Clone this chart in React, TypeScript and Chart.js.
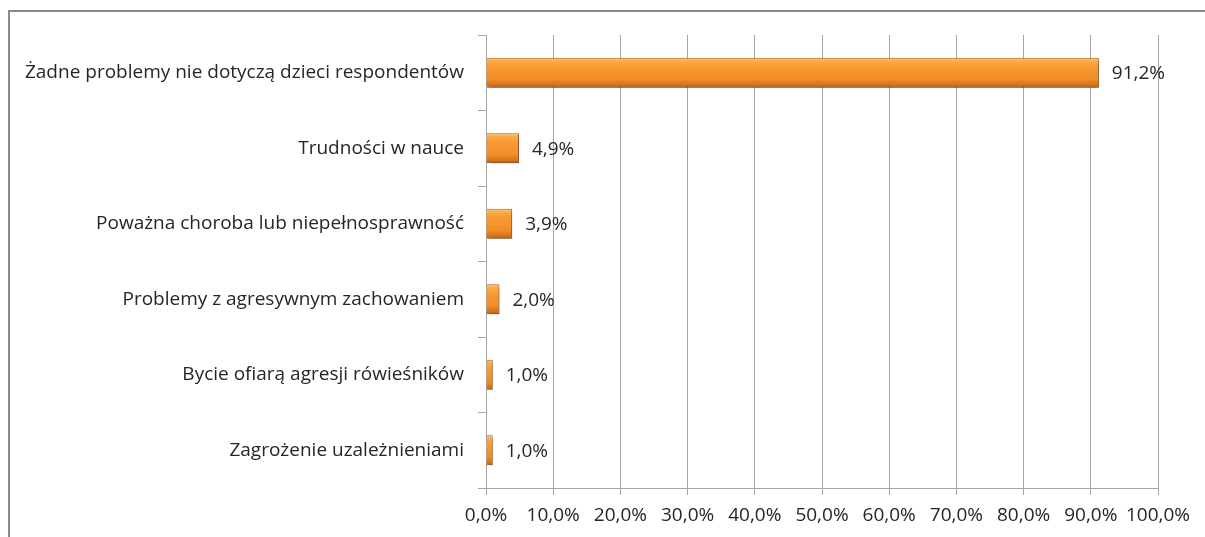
import React, { useEffect, useRef } from "react";
import { Chart, registerables } from "chart.js";

Chart.register(...registerables);

const categories: string[] = [
  "Żadne problemy nie dotyczą dzieci respondentów",
  "Trudności w nauce",
  "Poważna choroba lub niepełnosprawność",
  "Problemy z agresywnym zachowaniem",
  "Bycie ofiarą agresji rówieśników",
  "Zagrożenie uzależnieniami",
];
const values: number[] = [91.2, 4.9, 3.9, 2.0, 1.0, 1.0];
const xTicks: number[] = [0, 10, 20, 30, 40, 50, 60, 70, 80, 90, 100];

const FONT = "'Open Sans', Lato, sans-serif";
const FSIZE = 19;
const TEXT = "#262626";
const GRID = "#a6a6a6";

const fmt = (v: number) => v.toFixed(1).replace(".", ",") + "%";

const barStyle = {
  id: "barStyle",
  beforeDatasetsDraw(chart: any) {
    const ctx = chart.ctx;
    chart.data.datasets.forEach((_: any, i: number) => {
      const meta = chart.getDatasetMeta(i);
      meta.data.forEach((el: any) => {
        const top = el.y - el.height / 2;
        const bot = el.y + el.height / 2;
        const g = ctx.createLinearGradient(0, top, 0, bot);
        g.addColorStop(0, "#fcc77a");
        g.addColorStop(0.12, "#fbab48");
        g.addColorStop(0.3, "#f89a33");
        g.addColorStop(0.7, "#f48e27");
        g.addColorStop(0.9, "#d8731a");
        g.addColorStop(1, "#a85511");
        el.options = { ...el.options, backgroundColor: g };
      });
    });
  },
  beforeDatasetDraw(chart: any) {
    const ctx = chart.ctx;
    ctx.save();
    ctx.shadowColor = "rgba(0,0,0,0.35)";
    ctx.shadowOffsetX = 2;
    ctx.shadowOffsetY = 3;
    ctx.shadowBlur = 4;
  },
  afterDatasetDraw(chart: any) {
    chart.ctx.restore();
  },
};

const valueLabels = {
  id: "valueLabels",
  afterDatasetsDraw(chart: any) {
    const ctx = chart.ctx;
    const meta = chart.getDatasetMeta(0);
    ctx.save();
    ctx.font = `${FSIZE}px ${FONT}`;
    ctx.fillStyle = TEXT;
    ctx.textAlign = "left";
    ctx.textBaseline = "middle";
    meta.data.forEach((el: any, i: number) => {
      ctx.fillText(fmt(values[i]), el.x + 13, el.y + 1);
    });
    ctx.restore();
  },
};

export default function App() {
  const ref = useRef<HTMLCanvasElement>(null);
  useEffect(() => {
    if (!ref.current) return;
    const chart = new Chart(ref.current, {
      type: "bar",
      data: {
        labels: categories,
        datasets: [
          {
            data: values,
            backgroundColor: () => "#f7922c",
            borderColor: "#b85e14",
            borderWidth: 1,
            categoryPercentage: 1,
            barPercentage: 0.4,
          },
        ],
      },
      options: {
        indexAxis: "y",
        responsive: false,
        animation: false,
        layout: { padding: { top: 35, right: 47, bottom: 0, left: 0 } },
        plugins: { legend: { display: false }, tooltip: { enabled: false } },
        scales: {
          x: {
            min: 0,
            max: 100,
            afterBuildTicks: (scale: any) => {
              scale.ticks = xTicks.map((v) => ({ value: v }));
            },
            afterFit: (scale: any) => {
              scale.height = 49;
            },
            ticks: {
              callback: (v: any) => fmt(Number(v)),
              font: { family: FONT, size: FSIZE },
              color: TEXT,
              padding: 9,
              maxRotation: 0,
              autoSkip: false,
            },
            grid: { color: GRID, lineWidth: 1, tickLength: 7, drawTicks: true },
            border: { color: GRID, width: 1 },
          },
          y: {
            afterFit: (scale: any) => {
              scale.width = 486;
            },
            ticks: {
              font: { family: FONT, size: FSIZE },
              color: TEXT,
              padding: 14,
              autoSkip: false,
            },
            grid: {
              color: GRID,
              drawOnChartArea: false,
              drawTicks: true,
              tickLength: 8,
              offset: true,
            },
            border: { color: GRID, width: 1 },
          },
        },
      },
      plugins: [barStyle, valueLabels],
    });
    return () => chart.destroy();
  }, []);

  return (
    <div style={{ position: "fixed", left: 0, top: 0, width: 1205, height: 537, background: "#fff", overflow: "hidden" }}>
      <div
        style={{
          position: "absolute",
          left: 8,
          top: 10,
          width: 1205,
          height: 537,
          borderLeft: "2px solid #8a8a8a",
          borderTop: "2px solid #8a8a8a",
        }}
      />
      <canvas ref={ref} width={1205} height={537} style={{ position: "absolute", left: 0, top: 0 }} />
    </div>
  );
}
